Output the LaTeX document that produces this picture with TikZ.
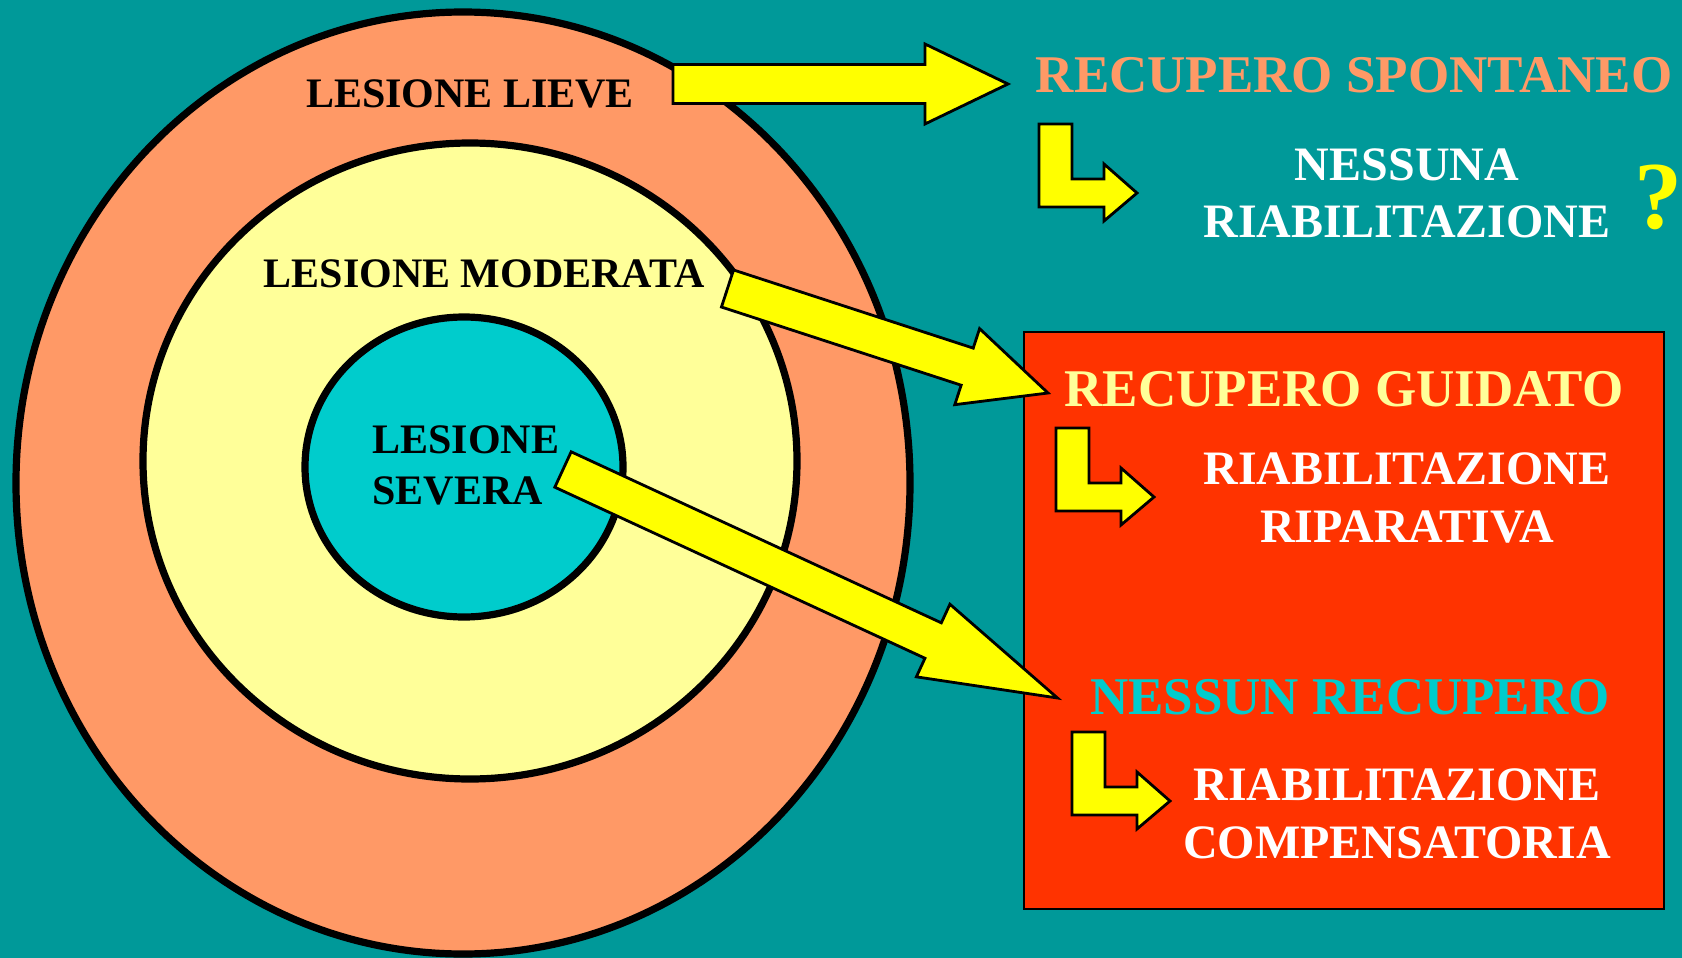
\documentclass[tikz,border=0pt]{standalone}
\usepackage{fontspec}
\setmainfont{Liberation Serif}
\usetikzlibrary{calc}
\definecolor{bgteal}{HTML}{009999}
\definecolor{salmon}{HTML}{FF9966}
\definecolor{paleyel}{HTML}{FFFF99}
\definecolor{cyanin}{HTML}{00CCCC}
\definecolor{boxred}{HTML}{FF3300}
\definecolor{arryel}{HTML}{FFFF00}
\newcommand\blockarr[3]{%
  \path ($(#2)!#3!(#1)$) coordinate (hb);
  \draw[blockarrow] ($(#1)!9.75pt!90:(#2)$) -- ($(hb)!9.75pt!90:(#2)$)
    -- ($(hb)!20pt!90:(#2)$) -- (#2) -- ($(hb)!20pt!-90:(#2)$)
    -- ($(hb)!9.75pt!-90:(#2)$) -- ($(#1)!9.75pt!-90:(#2)$) -- cycle;}
\newcommand\lbend[2]{%
  \draw[blockarrow,shift={(#1,#2)}] (0,0) -- (33,0) -- (33,55) -- (65,55) -- (65,40)
    -- (98,69) -- (65,97) -- (65,83) -- (0,83) -- cycle;}
\begin{document}
\begin{tikzpicture}[x=0.5pt,y=-0.5pt,
  ring/.style={draw=black,line width=3.6pt},
  blockarrow/.style={fill=arryel,draw=black,line width=1.4pt,line join=miter},
  lbl/.style={font=\bfseries\fontsize{21}{25}\selectfont,text=black,inner sep=0pt,anchor=base},
  big/.style={font=\bfseries\fontsize{26.5}{31}\selectfont,inner sep=0pt,anchor=base},
  sub/.style={font=\bfseries\fontsize{24}{28}\selectfont,text=white,inner sep=0pt,anchor=base}]
\useasboundingbox (0,0) rectangle (1682,958);
\fill[bgteal] (0,0) rectangle (1682,958);
% rings
\draw[ring,fill=salmon] (463,483) ellipse [x radius=223.5pt, y radius=235.5pt];
\draw[ring,fill=paleyel] (470,461) ellipse [x radius=163.5pt, y radius=159pt];
\draw[ring,fill=cyanin] (464,467) ellipse [x radius=79.5pt, y radius=75pt];
% ring labels
\node[lbl] (lieve) at (470,107) {LESIONE LIEVE};
\node[lbl] (moderata) at (484,287) {LESIONE MODERATA};
\node[lbl,anchor=base west] (severa1) at (372,453) {LESIONE};
\node[lbl,anchor=base west] (severa2) at (372,504) {SEVERA};
% red box
\draw[fill=boxred,draw=black,line width=1.4pt] (1024,332) rectangle (1664,909);
% right texts
\node[big,text=salmon] (spontaneo) at (1354,92) {RECUPERO SPONTANEO};
\node[sub] (nessuna1) at (1407,180) {NESSUNA};
\node[sub] (nessuna2) at (1407,237) {RIABILITAZIONE};
\node[font=\bfseries\fontsize{48}{50}\selectfont,text=arryel,inner sep=0pt,anchor=base] (quest) at (1658,228) {?};
\node[big,text=paleyel] (guidato) at (1344,406) {RECUPERO GUIDATO};
\node[sub] (ripar1) at (1407,484) {RIABILITAZIONE};
\node[sub] (ripar2) at (1407,542) {RIPARATIVA};
\node[big,text=cyanin] (nessun) at (1350,714) {NESSUN RECUPERO};
\node[sub] (comp1) at (1397,800) {RIABILITAZIONE};
\node[sub] (comp2) at (1397,858) {COMPENSATORIA};
% bent arrows
\lbend{1039}{124}
\lbend{1056}{428}
\lbend{1072}{732}
% block arrows
\coordinate (a1s) at (673,84);    \coordinate (a1e) at (1008,84);
\coordinate (a2s) at (727.5,288.5); \coordinate (a2e) at (1048,393);
\coordinate (a3s) at (563,469.5); \coordinate (a3e) at (1057.5,698);
\blockarr{a1s}{a1e}{41.5pt}
\blockarr{a2s}{a2e}{42.5pt}
\blockarr{a3s}{a3e}{68.5pt}
\end{tikzpicture}
\end{document}
